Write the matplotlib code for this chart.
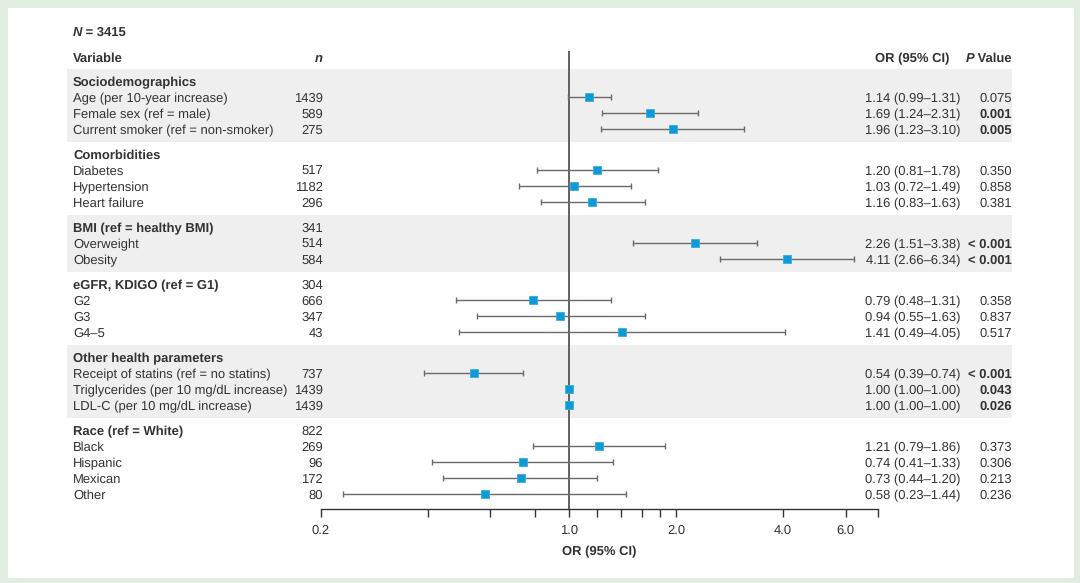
import numpy as np
import matplotlib.pyplot as plt
from matplotlib.patches import Rectangle
from matplotlib.ticker import FixedLocator, NullFormatter
import matplotlib.transforms as mtransforms

plt.rcParams['font.family'] = ['Liberation Sans', 'DejaVu Sans']
plt.rcParams['text.hinting'] = 'no_hinting'

# --- data ---
groups = ["Sociodemographics", "Comorbidities", "BMI (ref = healthy BMI)",
          "eGFR, KDIGO (ref = G1)", "Other health parameters", "Race (ref = White)"]
group_n = ["", "", "341", "304", "", "822"]
group_sizes = [3, 3, 2, 3, 3, 4]

labels = ["Age (per 10-year increase)", "Female sex (ref = male)", "Current smoker (ref = non-smoker)",
          "Diabetes", "Hypertension", "Heart failure",
          "Overweight", "Obesity",
          "G2", "G3", "G4\u20135",
          "Receipt of statins (ref = no statins)", "Triglycerides (per 10 mg/dL increase)",
          "LDL-C (per 10 mg/dL increase)",
          "Black", "Hispanic", "Mexican", "Other"]
n_vals = [1439, 589, 275, 517, 1182, 296, 514, 584, 666, 347, 43, 737, 1439, 1439, 269, 96, 172, 80]
or_vals = [1.14, 1.69, 1.96, 1.20, 1.03, 1.16, 2.26, 4.11, 0.79, 0.94, 1.41, 0.54, 1.00, 1.00,
           1.21, 0.74, 0.73, 0.58]
ci_low = [0.99, 1.24, 1.23, 0.81, 0.72, 0.83, 1.51, 2.66, 0.48, 0.55, 0.49, 0.39, 1.00, 1.00,
          0.79, 0.41, 0.44, 0.23]
ci_high = [1.31, 2.31, 3.10, 1.78, 1.49, 1.63, 3.38, 6.34, 1.31, 1.63, 4.05, 0.74, 1.00, 1.00,
           1.86, 1.33, 1.20, 1.44]
p_vals = ["0.075", "0.001", "0.005", "0.350", "0.858", "0.381", "< 0.001", "< 0.001",
          "0.358", "0.837", "0.517", "< 0.001", "0.043", "0.026", "0.373", "0.306", "0.213", "0.236"]

xticks_major = [0.2, 1.0, 2.0, 4.0, 6.0]
xtick_labels = ["0.2", "1.0", "2.0", "4.0", "6.0"]
xticks_minor = [0.4, 0.6, 0.8, 1.2, 1.4, 1.6, 1.8]

# --- layout (pixel-like row units, y grows downward) ---
W, H = 1080, 583
row_h = 16
group_gap = 25
txt = '#333333'
fs = 9.4
dy = 1.5  # nudge text down so caps line up with the markers

header_y = []
item_y = []
y = 81
for g, size in enumerate(group_sizes):
    header_y.append(y)
    for k in range(size):
        y += row_h
        item_y.append(y)
    y += group_gap

fig = plt.figure(figsize=(W / 100, H / 100), dpi=100, facecolor='#e2ede2')
fig.patches.append(Rectangle((8 / W, 5 / H), 1066 / W, 570 / H, transform=fig.transFigure,
                             facecolor='white', edgecolor='none', zorder=-2))

ax_top, ax_bot = 51, 509
ax_l, ax_r = 321, 878
ax = fig.add_axes([ax_l / W, 1 - ax_bot / H, (ax_r - ax_l) / W, (ax_bot - ax_top) / H])
ax.set_facecolor('none')
ax.set_xscale('log')
ax.set_xlim(0.2, 7.4)
ax.set_ylim(ax_bot, ax_top)

tr = mtransforms.blended_transform_factory(fig.transFigure, ax.transData)

# shaded bands for alternate groups
idx = 0
for g, size in enumerate(group_sizes):
    last = item_y[idx + size - 1]
    if g % 2 == 0:
        fig.patches.append(Rectangle((67 / W, header_y[g] - 12), (1012 - 67) / W,
                                     last - header_y[g] + 25, transform=tr,
                                     facecolor='#efefef', edgecolor='none', zorder=-1))
    idx += size

# reference line
ax.axvline(1.0, color='#555555', lw=1.3, zorder=2)

# CIs and points
or_arr = np.array(or_vals)
err = np.array([or_arr - np.array(ci_low), np.array(ci_high) - or_arr])
ax.errorbar(or_vals, item_y, xerr=err, fmt='none', ecolor='#6a6a6a', elinewidth=1,
            capsize=2.5, capthick=1, zorder=3)
ax.plot(or_vals, item_y, 's', color='#0d9ad7', markersize=6, markeredgecolor='#39ace0',
        markeredgewidth=0.6, zorder=4)

# axis styling
for s in ['top', 'left', 'right']:
    ax.spines[s].set_visible(False)
ax.spines['bottom'].set_color('#333333')
ax.spines['bottom'].set_linewidth(1)
ax.yaxis.set_visible(False)
ax.xaxis.set_major_locator(FixedLocator(xticks_major))
ax.set_xticklabels(xtick_labels)
ax.xaxis.set_minor_locator(FixedLocator(xticks_minor + [7.4]))
ax.xaxis.set_minor_formatter(NullFormatter())
ax.tick_params(axis='x', which='both', direction='out', length=6, width=1, color='#333333',
               labelsize=fs, labelcolor=txt, pad=5)
ax.set_xlabel("OR (95% CI)", fontsize=fs, fontweight='bold', color=txt, labelpad=7)

# headers
t = fig.text(73 / W, 1 - (31 + dy) / H, "N", fontsize=fs, fontweight='bold', fontstyle='italic',
             color=txt, va='center')
ax.annotate(" = 3415", xy=(1, 0.5), xycoords=t, va='center', fontsize=fs,
            fontweight='bold', color=txt)
ax.text(73 / W, 57 + dy, "Variable", transform=tr, fontsize=fs, fontweight='bold', color=txt,
        va='center', clip_on=False)
ax.text(323 / W, 57 + dy, "n", transform=tr, fontsize=fs, fontweight='bold', fontstyle='italic',
        color=txt, va='center', ha='right', clip_on=False)
ax.text(949 / W, 57 + dy, "OR (95% CI)", transform=tr, fontsize=fs, fontweight='bold', color=txt,
        va='center', ha='right', clip_on=False)
tv = ax.text(1012 / W, 57 + dy, " Value", transform=tr, fontsize=fs, fontweight='bold', color=txt,
             va='center', ha='right', clip_on=False)
ax.annotate("P", xy=(0, 0.5), xycoords=tv, va='center', ha='right', fontsize=fs,
            fontweight='bold', fontstyle='italic', color=txt)

# group headers
for g in range(len(groups)):
    ax.text(73 / W, header_y[g] + dy, groups[g], transform=tr, fontsize=fs, fontweight='bold',
            color=txt, va='center', clip_on=False)
    if group_n[g]:
        ax.text(323 / W, header_y[g] + dy, group_n[g], transform=tr, fontsize=fs, color=txt,
                va='center', ha='right', clip_on=False)

# item rows
for i in range(len(labels)):
    yy = item_y[i] + dy
    ax.text(73 / W, yy, labels[i], transform=tr, fontsize=fs, color=txt, va='center',
            clip_on=False)
    ax.text(323 / W, yy, str(n_vals[i]), transform=tr, fontsize=fs, color=txt, va='center',
            ha='right', clip_on=False)
    ax.text(960 / W, yy, "%.2f (%.2f\u2013%.2f)" % (or_vals[i], ci_low[i], ci_high[i]),
            transform=tr, fontsize=fs, color=txt, va='center', ha='right', clip_on=False)
    pv = p_vals[i]
    bold = pv.startswith("<") or float(pv) < 0.05
    ax.text(1012 / W, yy, pv, transform=tr, fontsize=fs, color=txt, va='center', ha='right',
            fontweight='bold' if bold else 'normal', clip_on=False)

fig.savefig("out.png", dpi=100, facecolor=fig.get_facecolor())
